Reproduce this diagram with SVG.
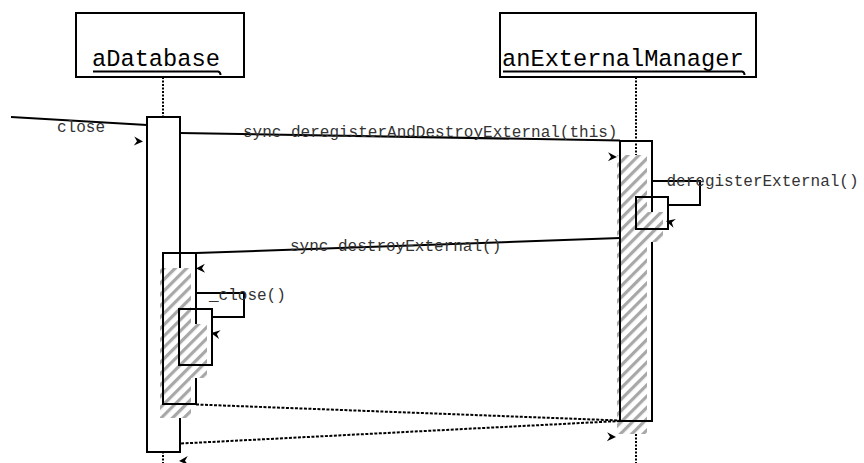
<svg xmlns="http://www.w3.org/2000/svg" xmlns:xlink="http://www.w3.org/1999/xlink" width="864" height="463" viewBox="0 0 864 463">
<style>
.box{fill:none;stroke:#000;stroke-width:2}
.wbox{fill:#fff;stroke:#000;stroke-width:2}
.life{fill:none;stroke:#000;stroke-width:2;stroke-dasharray:2,1.5}
.msg{fill:none;stroke:#000;stroke-width:2}
.ret{fill:none;stroke:#000;stroke-width:2;stroke-dasharray:3,1.5}
.hatch{fill:url(#hp);stroke:none}
.name{font-family:"Liberation Mono",monospace;font-size:23.7px;fill:#000}
.lbl{font-family:"Liberation Mono",monospace;font-size:16px;fill:#333}
.ul{fill:none;stroke:#000;stroke-width:2}
.ah{fill:#000}
</style>
<defs>
<pattern id="hp" patternUnits="userSpaceOnUse" width="8" height="8" patternTransform="rotate(45)">
<rect width="8" height="8" fill="#fff"/>
<rect width="3.2" height="8" fill="#a8a8a8"/>
</pattern>
<path id="ah" d="M0,0 L-9,-4.5 L-6,0 L-9,4.5 Z"/>
</defs>
<rect width="864" height="463" fill="#fff"/>

<g id="aDatabase">
<rect class="box" x="76" y="13" width="168" height="64"/>
<text class="name" x="92" y="66">aDatabase</text>
<path class="ul" d="M93,71.5 H218 Q220.5,72 220.5,75"/>
<line class="life" x1="163" y1="77" x2="163" y2="463"/>
<rect class="wbox" x="147" y="117" width="33" height="335"/>
</g>

<g id="anExternalManager">
<rect class="box" x="500" y="13" width="256" height="64"/>
<text class="name" x="502" y="66">anExternalManager</text>
<path class="ul" d="M503,71.5 H742 Q744.5,72 744.5,75"/>
<line class="life" x1="636" y1="77" x2="636" y2="463"/>
<rect class="hatch" x="617" y="155" width="30" height="279"/>
<rect class="box" x="620" y="141" width="32" height="280"/>
<rect class="hatch" x="633" y="212" width="30" height="30"/>
<rect class="box" x="636" y="197" width="32" height="32"/>
</g>

<g id="aDatabase-activations">
<rect class="hatch" x="160" y="268" width="31" height="150"/>
<rect class="box" x="163" y="253" width="33" height="151"/>
<rect class="hatch" x="176" y="324" width="31" height="54"/>
<rect class="box" x="179" y="309" width="33" height="56"/>
</g>

<g id="connectors">
<line class="msg" x1="11" y1="117" x2="147" y2="125"/>
<line class="msg" x1="180" y1="133" x2="620" y2="140.5"/>
<path class="msg" d="M652,181 H700 V205 H668"/>
<line class="msg" x1="620" y1="238" x2="196" y2="253"/>
<path class="msg" d="M196,293 H244 V317 H212"/>
<line class="ret" x1="196" y1="404.5" x2="620" y2="420.5"/>
<line class="ret" x1="620" y1="421" x2="181" y2="443.5"/>
<use class="ah" xlink:href="#ah" transform="translate(143,141.5) rotate(3)"/>
<use class="ah" xlink:href="#ah" transform="translate(617,157) rotate(1)"/>
<use class="ah" xlink:href="#ah" transform="translate(666,221) rotate(195)"/>
<use class="ah" xlink:href="#ah" transform="translate(196,268.5) rotate(178)"/>
<use class="ah" xlink:href="#ah" transform="translate(211,333) rotate(190)"/>
<use class="ah" xlink:href="#ah" transform="translate(616,437) rotate(2)"/>
<use class="ah" xlink:href="#ah" transform="translate(179,461) rotate(177)"/>
</g>

<g id="labels">
<text class="lbl" x="57" y="131.5">close</text>
<text class="lbl" x="243" y="137.3">sync deregisterAndDestroyExternal(this)</text>
<text class="lbl" x="666.5" y="186">deregisterExternal()</text>
<text class="lbl" x="290" y="250.7">sync destroyExternal()</text>
<text class="lbl" x="209" y="300">_close()</text>
</g>
</svg>
